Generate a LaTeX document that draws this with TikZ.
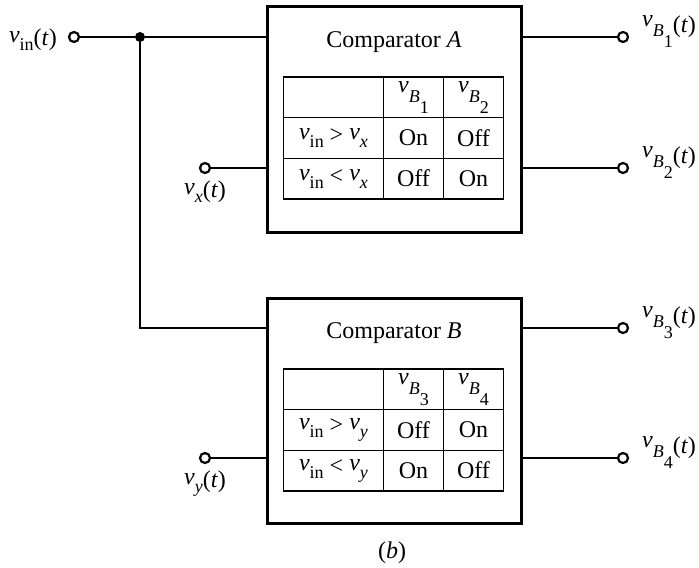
\documentclass[tikz,border=0pt]{standalone}
\usepackage{fontspec}
\setmainfont{Liberation Serif}
\usepackage{tikz}
\usetikzlibrary{positioning,matrix}
\newcommand{\lo}[2]{\raisebox{-#1}{\fontsize{9}{9}\selectfont #2}}
\newcommand{\vv}[1]{\raisebox{#1}{\textit{v}}}
\newcommand{\vin}{\vv{1.5pt}\lo{2.5pt}{in}}
\newcommand{\vsub}[1]{\vv{1.5pt}\lo{2.5pt}{\textit{#1}}}
\newcommand{\vB}[1]{\vv{2.8pt}\lo{2.2pt}{\textit{B}\lo{5.5pt}{#1}}}
\tikzset{
  wire/.style={line width=0.9pt},
  cmp/.style={draw,line width=1.5pt,minimum width=127pt,minimum height=112.5pt,inner sep=0pt},
  term/.style={circle,draw,line width=1.1pt,fill=white,minimum size=5pt,inner sep=0pt},
  dot/.style={circle,fill,minimum size=5pt,inner sep=0pt},
  tab/.style={matrix of nodes,nodes in empty cells,inner sep=0pt,
    column sep=-0.7pt,row sep=-0.7pt,
    nodes={draw,line width=0.7pt,minimum height=20.3pt,anchor=center,inner sep=1pt},
    column 1/.style={nodes={minimum width=50pt}},
    column 2/.style={nodes={minimum width=30pt}},
    column 3/.style={nodes={minimum width=30pt}}}
}
\begin{document}
\begin{tikzpicture}[x=0.5pt,y=-0.5pt,font=\fontsize{12}{14}\selectfont]
\useasboundingbox (0,0) rectangle (699,567);
% comparator blocks
\node[cmp] (cmpA) at (394,119.5) {};
\node[cmp] (cmpB) at (394,410.5) {};
\node (titA) at (394,42) {Comparator \textit{A}};
\node (titB) at (394,333) {Comparator \textit{B}};
\matrix (tabA) [tab] at (393.5,138) {
  & \vB{1} & \vB{2} \\
  \vin\ > \vsub{x} & On & Off \\
  \vin\ < \vsub{x} & Off & On \\
};
\matrix (tabB) [tab] at (393.5,430) {
  & \vB{3} & \vB{4} \\
  \vin\ > \vsub{y} & Off & On \\
  \vin\ < \vsub{y} & On & Off \\
};
% terminals
\node[term] (vin) at (74,37) {};
\node[dot] (jn) at (140,37) {};
\node[term] (vx) at (205,168) {};
\node[term] (vy) at (205,458) {};
\node[term] (vB1) at (623,37) {};
\node[term] (vB2) at (623,168) {};
\node[term] (vB3) at (623,328) {};
\node[term] (vB4) at (623,458) {};
\node[left=2pt of vin,yshift=-1.2pt] (vinL) {\vin(\textit{t})};
\node[below=0pt of vx] (vxL) {\vsub{x}(\textit{t})};
\node[below=0pt of vy] (vyL) {\vsub{y}(\textit{t})};
\node[right=3pt of vB1,yshift=2.7pt] (vB1L) {\vB{1}(\textit{t})};
\node[right=3pt of vB2,yshift=2.7pt] (vB2L) {\vB{2}(\textit{t})};
\node[right=3pt of vB3,yshift=2.7pt] (vB3L) {\vB{3}(\textit{t})};
\node[right=3pt of vB4,yshift=2.7pt] (vB4L) {\vB{4}(\textit{t})};
% wiring
\draw[wire] (vin) -- (jn) -- (jn -| cmpA.west);
\draw[wire] (jn) |- (cmpB.west |- vB3);
\draw[wire] (vx) -- (vx -| cmpA.west);
\draw[wire] (vy) -- (vy -| cmpB.west);
\draw[wire] (cmpA.east |- vB1) -- (vB1);
\draw[wire] (cmpA.east |- vB2) -- (vB2);
\draw[wire] (cmpB.east |- vB3) -- (vB3);
\draw[wire] (cmpB.east |- vB4) -- (vB4);
\node (cap) at (392,553) {(\textit{b})};
\end{tikzpicture}
\end{document}
